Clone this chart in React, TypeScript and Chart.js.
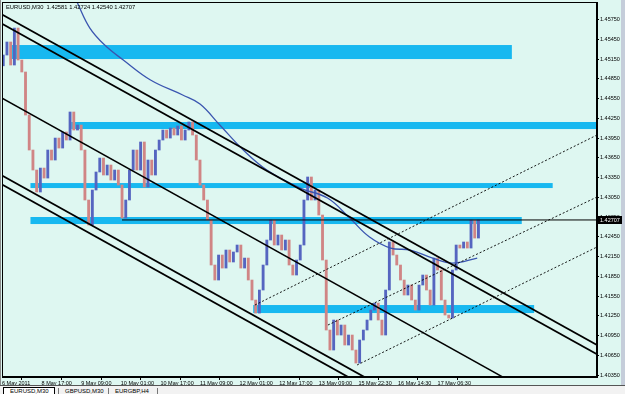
import React, { useEffect, useRef } from 'react';
import { Chart, registerables } from 'chart.js';

Chart.register(...registerables);

// ---------- data ----------
const titleText = 'EURUSD,M30  1.42581 1.42724 1.42540 1.42707';
const lastPrice = 1.42707;

const xTickBars = [0, 32, 64, 96, 128, 160, 192, 224, 256, 288, 320, 352];
const xTickLabels = [
  '6 May 2011', '8 May 17:00', '9 May 09:00', '10 May 01:00', '10 May 17:00', '11 May 09:00',
  '12 May 01:00', '12 May 17:00', '13 May 09:00', '15 May 22:30', '16 May 14:30', '17 May 06:30',
];
const yTicks = [
  1.4035, 1.4065, 1.4095, 1.4125, 1.4155, 1.4185, 1.4215, 1.4245, 1.4275, 1.4305,
  1.4335, 1.4365, 1.4395, 1.4425, 1.4455, 1.4485, 1.4515, 1.4545, 1.4575,
];

// closing prices, one every 3 M30 bars
const firstOpen = 1.4505;
const closes = [
  1.45214, 1.45412, 1.45062, 1.45624, 1.45138, 1.44956, 1.44302, 1.4377, 1.43466, 1.43132,
  1.43496, 1.43344, 1.4377, 1.43618, 1.43952, 1.438, 1.44044, 1.43922, 1.44348, 1.44074,
  1.4415, 1.4377, 1.4301, 1.4263, 1.43162, 1.43436, 1.43648, 1.4339, 1.43542, 1.43314,
  1.43466, 1.43238, 1.42736, 1.4301, 1.43466, 1.4377, 1.43466, 1.43892, 1.43208, 1.43618,
  1.4339, 1.4377, 1.43922, 1.44074, 1.43952, 1.44104, 1.43998, 1.44135, 1.43922, 1.44074,
  1.44196, 1.43998, 1.43618, 1.43238, 1.4301, 1.42706, 1.42022, 1.41794, 1.42174, 1.41976,
  1.4225, 1.42068, 1.4222, 1.42326, 1.41976, 1.42128, 1.41794, 1.4149, 1.41292, 1.41642,
  1.42022, 1.42402, 1.42706, 1.42326, 1.42478, 1.4225, 1.42402, 1.42022, 1.4187, 1.42098,
  1.42326, 1.4301, 1.4336, 1.4301, 1.43162, 1.42782, 1.42098, 1.41034, 1.4073, 1.41186,
  1.40958, 1.4111, 1.40806, 1.40958, 1.4073, 1.40532, 1.40882, 1.41034, 1.41186, 1.41338,
  1.41444, 1.41186, 1.40958, 1.41642, 1.42372, 1.42174, 1.42022, 1.41794, 1.41566, 1.41718,
  1.4149, 1.41338, 1.41718, 1.4187, 1.41642, 1.41414, 1.42128, 1.41946, 1.4149, 1.41262,
  1.41216, 1.41946, 1.42326, 1.4228, 1.42372, 1.4228, 1.42706, 1.42432, 1.42707,
];

// moving average
const maBars = [57, 61, 71, 83, 98, 120, 146, 160, 176, 195, 214, 241, 263, 281, 297, 314, 330, 348, 364, 384];
const maValues = [
  1.46172, 1.46004, 1.45624, 1.45366, 1.45138, 1.44834, 1.44606, 1.44469, 1.4415, 1.4377,
  1.43466, 1.43192, 1.4304, 1.42736, 1.42448, 1.4228, 1.4225, 1.42128, 1.42052, 1.42128,
];

// support / resistance zones
const zoneStart = [8, 56, 23, 23, 203];
const zoneEnd = [412, 481, 445, 420, 430];
const zoneTop = [1.45366, 1.44196, 1.43268, 1.42752, 1.41414];
const zoneBottom = [1.45153, 1.44089, 1.43192, 1.42645, 1.41292];

// solid trend lines: [startBar, startPrice, endBar, endPrice]
const solidLines = [
  [-5, 1.45882, 490, 1.4071],
  [-5, 1.45742, 490, 1.4057],
  [-5, 1.44612, 490, 1.39425],
  [-5, 1.43435, 490, 1.38258],
  [-5, 1.43298, 490, 1.38121],
];
// dotted lines
const dottedLines = [
  [204.4, 1.41414, 490, 1.44084],
  [263.4, 1.4111, 490, 1.43138],
  [286.9, 1.40502, 490, 1.42381],
];
const priceLine = [97, lastPrice, 481, lastPrice];

// ---------- styles ----------
const BG = '#DEF7F1';
const ZONE = '#17B8F0';
const UP = '#5565C0';
const DOWN = '#D08585';
const FONT = "'Liberation Sans', Arial, sans-serif";

export default function App() {
  const ref = useRef<HTMLCanvasElement | null>(null);

  useEffect(() => {
    const canvas = ref.current;
    if (!canvas) return;

    const priceBars = closes.map((c, i) => {
      const prev = i === 0 ? firstOpen : closes[i - 1];
      return { x: 1 + i * 3, y: [prev, c] };
    });
    const barColors = closes.map((c, i) => {
      const prev = i === 0 ? firstOpen : closes[i - 1];
      return c >= prev ? UP : DOWN;
    });

    const lineDs = (l: number[], width: number, dash: number[] = []) => ({
      type: 'line' as const,
      data: [{ x: l[0], y: l[1] }, { x: l[2], y: l[3] }],
      borderColor: '#000',
      borderWidth: width,
      borderDash: dash,
      pointRadius: 0,
      clip: 0,
      order: 1,
    });

    const bgPlugin = {
      id: 'bg',
      beforeDraw(chart: any) {
        const { ctx, width, height } = chart;
        ctx.save();
        ctx.fillStyle = BG;
        ctx.fillRect(0, 0, width, height);
        ctx.fillStyle = '#c5cdda';
        ctx.fillRect(621, 0, width - 621, height);
        ctx.fillStyle = '#8a8a8a';
        ctx.fillRect(0, 0, 1, height);
        ctx.restore();
      },
    };

    const zonePlugin = {
      id: 'zones',
      beforeDatasetsDraw(chart: any) {
        const { ctx, chartArea: a, scales } = chart;
        const xs = scales.x;
        const ys = scales.y;
        ctx.save();
        ctx.beginPath();
        ctx.rect(a.left, a.top, a.right - a.left, a.bottom - a.top);
        ctx.clip();
        ctx.fillStyle = ZONE;
        for (let i = 0; i < zoneStart.length; i++) {
          const x0 = xs.getPixelForValue(zoneStart[i]);
          const x1 = xs.getPixelForValue(zoneEnd[i]);
          const y0 = ys.getPixelForValue(zoneTop[i]);
          const y1 = ys.getPixelForValue(zoneBottom[i]);
          ctx.fillRect(x0, y0, x1 - x0, y1 - y0);
        }
        ctx.restore();
      },
    };

    const framePlugin = {
      id: 'frame',
      afterDraw(chart: any) {
        const { ctx, chartArea: a, scales } = chart;
        ctx.save();
        ctx.strokeStyle = '#000';
        ctx.lineWidth = 1;
        ctx.strokeRect(a.left + 0.5, a.top + 0.5, a.right - a.left - 1, a.bottom - a.top - 1);
        // current price box
        const y = Math.round(scales.y.getPixelForValue(lastPrice));
        ctx.fillStyle = '#000';
        ctx.fillRect(a.right + 1, y - 4, 24, 8);
        ctx.fillStyle = '#fff';
        ctx.font = `5.5px ${FONT}`;
        ctx.textBaseline = 'middle';
        ctx.textAlign = 'left';
        ctx.fillText(lastPrice.toFixed(5), a.right + 3, y + 0.5);
        ctx.restore();
      },
    };

    const chart = new Chart(canvas, {
      type: 'line',
      data: {
        datasets: [
          {
            type: 'bar',
            data: priceBars as any,
            backgroundColor: barColors,
            borderWidth: 0,
            barThickness: 2.2,
            grouped: false,
            clip: 0,
            order: 3,
          } as any,
          {
            type: 'line',
            data: maBars.map((b, i) => ({ x: b, y: maValues[i] })),
            borderColor: '#3A55B0',
            borderWidth: 1.3,
            pointRadius: 0,
            tension: 0.4,
            clip: 0,
            order: 2,
          },
          ...solidLines.map((l, i) => lineDs(l, i === 2 ? 1.5 : 1.8)),
          ...dottedLines.map((l) => lineDs(l, 0.9, [2, 2])),
          lineDs(priceLine, 1),
        ],
      },
      options: {
        responsive: false,
        animation: false,
        devicePixelRatio: 1,
        layout: { padding: { left: 2, top: 2, right: 0, bottom: 0 } },
        plugins: { legend: { display: false }, tooltip: { enabled: false } },
        scales: {
          x: {
            type: 'linear',
            min: 0,
            max: 480.8,
            offset: false,
            afterBuildTicks: (s: any) => {
              s.ticks = xTickBars.map((v) => ({ value: v }));
            },
            afterFit: (s: any) => {
              s.height = 17;
              s.paddingLeft = 0;
              s.paddingRight = 0;
            },
            ticks: {
              autoSkip: false,
              maxRotation: 0,
              align: 'start',
              padding: 0,
              color: '#000',
              font: { family: FONT, size: 5.5 },
              callback: (v: any) => {
                const idx = xTickBars.indexOf(Number(v));
                return idx >= 0 ? xTickLabels[idx] : '';
              },
            },
            grid: { drawOnChartArea: false, tickLength: 3, color: '#000' },
            border: { display: true, color: '#000' },
          },
          y: {
            type: 'linear',
            position: 'right',
            min: 1.4032,
            max: 1.4602,
            afterBuildTicks: (s: any) => {
              s.ticks = yTicks.map((v) => ({ value: v }));
            },
            afterFit: (s: any) => {
              s.width = 28;
              s.paddingTop = 0;
              s.paddingBottom = 0;
            },
            ticks: {
              padding: 1,
              color: '#000',
              font: { family: FONT, size: 5.5 },
              callback: (v: any) => Number(v).toFixed(5),
            },
            grid: { drawOnChartArea: false, tickLength: 2, color: '#000' },
            border: { display: true, color: '#000' },
          },
        },
      } as any,
      plugins: [bgPlugin, zonePlugin, framePlugin],
    });

    return () => chart.destroy();
  }, []);

  const tabStyle: React.CSSProperties = {
    position: 'absolute',
    top: 2,
    height: 12,
    fontSize: 6,
    lineHeight: '7px',
    fontFamily: FONT,
    color: '#000',
    paddingLeft: 6,
    boxSizing: 'border-box',
  };

  return (
    <div style={{ position: 'fixed', left: 0, top: 0, width: 625, height: 394, overflow: 'hidden', background: BG }}>
      <canvas ref={ref} width={625} height={394} style={{ display: 'block' }} />
      <div
        style={{
          position: 'absolute', left: 6, top: 4, fontSize: 5.8, lineHeight: '7px',
          fontFamily: FONT, color: '#000', whiteSpace: 'pre',
        }}
      >
        {titleText}
      </div>
      <div
        style={{
          position: 'absolute', left: 0, top: 385, width: 625, height: 9,
          background: '#f2f2f2', borderTop: '1px solid #555', boxSizing: 'border-box', overflow: 'hidden',
        }}
      >
        <div style={{ ...tabStyle, left: 3, width: 52, background: '#fff', border: '1px solid #000', borderBottom: 'none', top: 1 }}>
          EURUSD,M30
        </div>
        <div style={{ ...tabStyle, left: 58, width: 50, borderLeft: '1px solid #777' }}>GBPUSD,M30</div>
        <div style={{ ...tabStyle, left: 108, width: 50, borderLeft: '1px solid #777', borderRight: '1px solid #777' }}>EURGBP,H4</div>
      </div>
    </div>
  );
}
